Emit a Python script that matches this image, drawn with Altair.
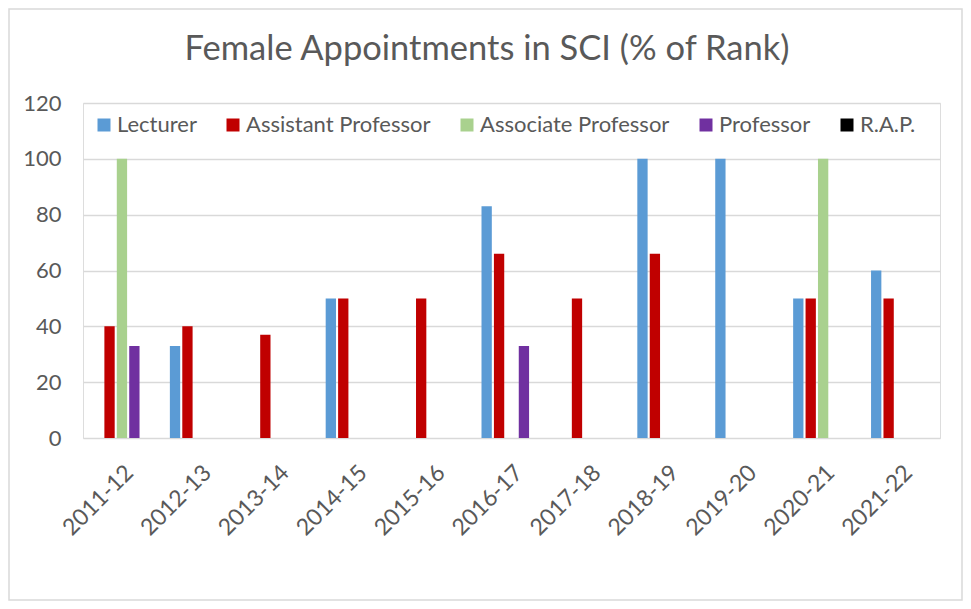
import altair as alt
import pandas as pd

years = ["2011-12", "2012-13", "2013-14", "2014-15", "2015-16", "2016-17",
         "2017-18", "2018-19", "2019-20", "2020-21", "2021-22"]
series = ["Lecturer", "Assistant Professor", "Associate Professor", "Professor", "R.A.P."]
colors = ["#5b9bd5", "#c00000", "#a9d18e", "#7030a0", "#000000"]

lecturer = [0, 33, 0, 50, 0, 83, 0, 100, 100, 50, 60]
assistant = [40, 40, 37, 50, 50, 66, 50, 66, 0, 50, 50]
associate = [100, 0, 0, 0, 0, 0, 0, 0, 0, 100, 0]
professor = [33, 0, 0, 0, 0, 33, 0, 0, 0, 0, 0]
rap = [0, 0, 0, 0, 0, 0, 0, 0, 0, 0, 0]

title_text = "Female Appointments in SCI (% of Rank)"

rows = []
for s, vals in zip(series, [lecturer, assistant, associate, professor, rap]):
    for y, v in zip(years, vals):
        if v > 0:
            rows.append({"Year": y, "Rank": s, "Value": v})
df = pd.DataFrame(rows)

FONT = "Lato"
GRAY = "#595959"
W, H = 857, 335
FS = 22

bars = alt.Chart(df).mark_bar().encode(
    x=alt.X("Year:N", sort=years, scale=alt.Scale(domain=years, paddingInner=0.23, paddingOuter=0.115),
            axis=alt.Axis(title=None, labelAngle=-45, labelFontSize=23, labelColor=GRAY, labelFont=FONT,
                          ticks=False, domain=False, labelPadding=23)),
    xOffset=alt.XOffset("Rank:N", scale=alt.Scale(domain=series, paddingInner=0.17, paddingOuter=0)),
    y=alt.Y("Value:Q", scale=alt.Scale(domain=[0, 120]),
            axis=alt.Axis(title=None, values=[0, 20, 40, 60, 80, 100, 120], labelFontSize=FS,
                          labelColor=GRAY, labelFont=FONT, ticks=False, domain=False, labelPadding=22,
                          gridColor="#d9d9d9", gridWidth=1.3)),
    color=alt.Color("Rank:N", scale=alt.Scale(domain=series, range=colors),
                    legend=alt.Legend(title=None, orient="none", direction="horizontal",
                                      legendX=10, legendY=11, symbolType="square", symbolSize=169,
                                      symbolStrokeWidth=0, labelFontSize=FS, labelColor=GRAY,
                                      labelFont=FONT, labelOffset=2, columnPadding=25, padding=0,
                                      labelLimit=0)),
)

border = alt.Chart(alt.Data(values=[{}])).mark_rect(fill="white", fillOpacity=0, stroke="#d9d9d9", strokeWidth=1.5).encode(
    x=alt.value(-74), x2=alt.value(W + 22), y=alt.value(-94), y2=alt.value(H + 162)
)

title = alt.Chart(alt.Data(values=[{"t": title_text}])).mark_text(
    font=FONT, fontSize=34.5, color=GRAY, align="center", baseline="alphabetic"
).encode(text="t:N", x=alt.value(404), y=alt.value(-43))

chart = alt.layer(border, title, bars).properties(
    width=W, height=H,
    autosize=alt.AutoSizeParams(type="none"),
    padding={"left": 75, "top": 95, "right": 23, "bottom": 163},
).configure_view(stroke=None).configure(background="white")

chart.save("out.html", embed_options={"renderer": "svg", "actions": False})
